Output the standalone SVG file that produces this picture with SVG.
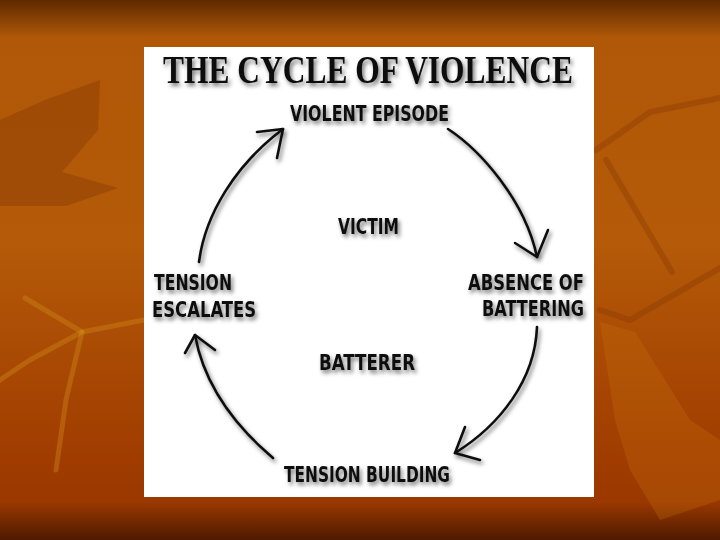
<svg xmlns="http://www.w3.org/2000/svg" width="720" height="540" viewBox="0 0 720 540">
  <defs>
    <linearGradient id="bg" x1="0" y1="0" x2="0" y2="1">
      <stop offset="0" stop-color="#5e2a00"/>
      <stop offset="0.07" stop-color="#b05808"/>
      <stop offset="0.45" stop-color="#b45a08"/>
      <stop offset="0.85" stop-color="#a03c00"/>
      <stop offset="0.93" stop-color="#9a3800"/>
      <stop offset="1" stop-color="#4e1a00"/>
    </linearGradient>
    <filter id="sh" x="-10%" y="-30%" width="130%" height="170%">
      <feDropShadow dx="2" dy="3" stdDeviation="2" flood-color="#000" flood-opacity="0.55"/>
    </filter>
    <style>
      .lbl { font-family: "DejaVu Sans Condensed", "DejaVu Sans", sans-serif; font-weight: bold; font-size: 22px; fill: #111; }
      .title { font-family: "Liberation Serif", serif; font-weight: bold; font-size: 39px; fill: #111; }
      .arr { fill: none; stroke: #111; stroke-width: 2.6; stroke-linecap: round; stroke-linejoin: round; }
      .leafD { fill: #7e3204; opacity: 0.35; }
      .twigL { fill: none; stroke: #d08a18; stroke-width: 5; stroke-linecap: round; opacity: 0.4; }
      .twigD { fill: none; stroke: #8a3a04; stroke-width: 6; stroke-linecap: round; opacity: 0.4; }
    </style>
  </defs>

  <g id="background">
    <rect x="0" y="0" width="720" height="540" fill="url(#bg)"/>
    <polygon class="leafD" points="0,120 45,100 100,80 98,130 62,172 118,188 66,206 0,206"/>
    <polyline class="twigL" points="25,298 82,332 144,320"/>
    <polyline class="twigL" points="82,332 66,400 56,470"/>
    <polyline class="twigL" points="82,332 30,360 0,380"/>
    <polyline class="twigD" points="596,150 650,112 720,98"/>
    <polyline class="twigD" points="606,160 672,272"/>
    <polyline class="twigD" points="600,310 630,320 720,268"/>
    <polygon fill="#c87410" opacity="0.28" points="600,322 635,332 690,420 720,440 720,500 660,520 630,470 615,420"/>
  </g>

  <rect id="panel" x="144" y="47" width="450" height="450" fill="#ffffff"/>

  <g id="title" filter="url(#sh)">
    <text class="title" x="163" y="83" textLength="410" lengthAdjust="spacingAndGlyphs">THE CYCLE OF VIOLENCE</text>
  </g>

  <g id="connectors" filter="url(#sh)">
    <path class="arr" d="M199,262 C205,215 235,165 283,129"/>
    <polyline class="arr" points="257,132 283,129 277,158"/>
    <path class="arr" d="M448,129 C480,150 525,200 537,257"/>
    <polyline class="arr" points="515,243 537,257 548,230"/>
    <path class="arr" d="M537,327 C535,380 500,425 455,453"/>
    <polyline class="arr" points="465,427 455,453 480,460"/>
    <path class="arr" d="M273,458 C240,430 205,390 195,335"/>
    <polyline class="arr" points="185,353 195,335 215,350"/>
  </g>

  <g id="violent-episode" filter="url(#sh)">
    <text class="lbl" x="290" y="121" textLength="159" lengthAdjust="spacingAndGlyphs">VIOLENT EPISODE</text>
  </g>
  <g id="absence-of-battering" filter="url(#sh)">
    <text class="lbl" x="468" y="290" textLength="116" lengthAdjust="spacingAndGlyphs">ABSENCE OF</text>
    <text class="lbl" x="482" y="316" textLength="102" lengthAdjust="spacingAndGlyphs">BATTERING</text>
  </g>
  <g id="tension-building" filter="url(#sh)">
    <text class="lbl" x="284" y="482" textLength="166" lengthAdjust="spacingAndGlyphs">TENSION BUILDING</text>
  </g>
  <g id="tension-escalates" filter="url(#sh)">
    <text class="lbl" x="154" y="290" textLength="78" lengthAdjust="spacingAndGlyphs">TENSION</text>
    <text class="lbl" x="152" y="317" textLength="104" lengthAdjust="spacingAndGlyphs">ESCALATES</text>
  </g>
  <g id="victim" filter="url(#sh)">
    <text class="lbl" x="338" y="234" textLength="61" lengthAdjust="spacingAndGlyphs">VICTIM</text>
  </g>
  <g id="batterer" filter="url(#sh)">
    <text class="lbl" x="319" y="370" textLength="96" lengthAdjust="spacingAndGlyphs">BATTERER</text>
  </g>
</svg>
